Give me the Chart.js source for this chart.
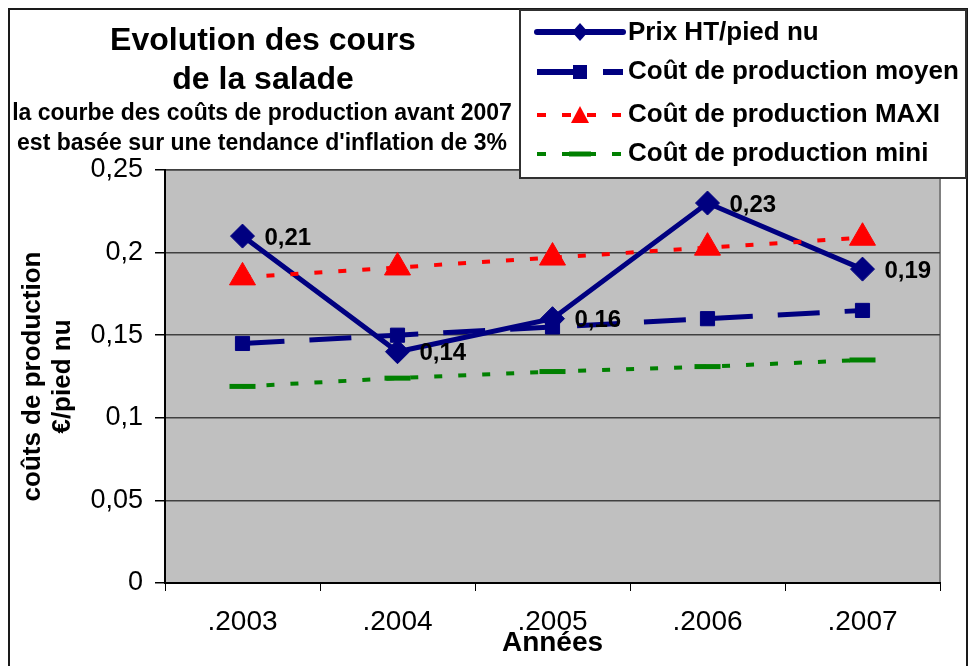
<!DOCTYPE html>
<html>
<head>
<meta charset="utf-8">
<script src="https://cdn.jsdelivr.net/npm/chart.js@4/dist/chart.umd.min.js"></script>
<style>
  html, body { margin: 0; padding: 0; background: #fff; }
  #wrap { width: 968px; height: 666px; position: relative; }
</style>
</head>
<body>
<div id="wrap"><canvas id="c" width="968" height="666"></canvas></div>
<script>
// ---- data ----
const categories = ['.2003', '.2004', '.2005', '.2006', '.2007'];
const prixHT = [0.21, 0.14, 0.16, 0.23, 0.19];
const coutMoyen = [0.145, 0.150, 0.155, 0.160, 0.165];
const coutMaxi = [0.185, 0.191, 0.197, 0.203, 0.209];
const coutMini = [0.119, 0.124, 0.128, 0.131, 0.135];
const prixLabels = ['0,21', '0,14', '0,16', '0,23', '0,19'];
const yTickLabels = ['0', '0,05', '0,1', '0,15', '0,2', '0,25'];
const seriesNames = ['Prix HT/pied nu', 'Coût de production moyen', 'Coût de production MAXI', 'Coût de production mini'];
const titleLines = ['Evolution des cours', 'de la salade'];
const subtitleLines = ['la courbe des coûts de production avant 2007', "est basée sur une tendance d'inflation de 3%"];
const yTitle = ['coûts de production', '€/pied nu'];
const xTitle = 'Années';

const FONT = '"Liberation Sans", Arial, Helvetica, sans-serif';
const NAVY = '#000080', RED = '#FF0000', GREEN = '#008000';

const bgPlugin = {
  id: 'bg',
  beforeDraw(chart) {
    const ctx = chart.ctx, a = chart.chartArea;
    ctx.save();
    ctx.fillStyle = '#fff';
    ctx.fillRect(0, 0, chart.width, chart.height);
    ctx.strokeStyle = '#1a1a1a';
    ctx.lineWidth = 2;
    ctx.strokeRect(9, 9, 958, 700);
    ctx.fillStyle = '#C0C0C0';
    ctx.fillRect(a.left, a.top, a.right - a.left, a.bottom - a.top);
    ctx.strokeStyle = '#808080';
    ctx.lineWidth = 2;
    ctx.strokeRect(a.left, a.top, a.right - a.left, a.bottom - a.top);
    ctx.restore();
  },
  afterDatasetsDraw(chart) {
    const ctx = chart.ctx;
    const meta = chart.getDatasetMeta(0);
    ctx.save();
    ctx.fillStyle = '#000';
    ctx.font = 'bold 24px ' + FONT;
    ctx.textAlign = 'left';
    ctx.textBaseline = 'alphabetic';
    meta.data.forEach((pt, i) => {
      ctx.fillText(prixLabels[i], pt.x + 22, pt.y + 8.5);
    });
    ctx.restore();
  },
  afterDraw(chart) {
    const ctx = chart.ctx;
    ctx.save();
    ctx.fillStyle = '#000';
    ctx.textAlign = 'center';
    ctx.textBaseline = 'alphabetic';
    ctx.font = 'bold 32px ' + FONT;
    ctx.fillText(titleLines[0], 263, 50);
    ctx.fillText(titleLines[1], 263, 89);
    ctx.font = 'bold 23px ' + FONT;
    ctx.fillText(subtitleLines[0], 262, 120, 504);
    ctx.fillText(subtitleLines[1], 262, 150, 496);

    // legend box
    ctx.fillStyle = '#fff';
    ctx.fillRect(520, 10, 446, 168);
    ctx.strokeStyle = '#303030';
    ctx.lineWidth = 2;
    ctx.strokeRect(520, 10, 446, 168);

    const rows = [32, 72, 115, 154];
    const x0 = 537, x1 = 623, xm = 580;
    // row 1 : solid navy + diamond
    ctx.lineCap = 'round';
    ctx.strokeStyle = NAVY; ctx.lineWidth = 6;
    ctx.beginPath(); ctx.moveTo(x0, rows[0]); ctx.lineTo(x1, rows[0]); ctx.stroke();
    ctx.lineCap = 'butt';
    ctx.fillStyle = NAVY;
    ctx.beginPath();
    ctx.moveTo(xm - 8, rows[0]); ctx.lineTo(xm, rows[0] - 9); ctx.lineTo(xm + 8, rows[0]); ctx.lineTo(xm, rows[0] + 9);
    ctx.closePath(); ctx.fill();
    // row 2 : dashed navy + square
    ctx.lineWidth = 6;
    ctx.setLineDash([40, 26]);
    ctx.beginPath(); ctx.moveTo(x0, rows[1]); ctx.lineTo(x1, rows[1]); ctx.stroke();
    ctx.setLineDash([]);
    ctx.fillRect(xm - 7, rows[1] - 7, 14, 14);
    // row 3 : dotted red + triangle
    ctx.strokeStyle = RED; ctx.fillStyle = RED; ctx.lineWidth = 4;
    ctx.setLineDash([9, 16]);
    ctx.beginPath(); ctx.moveTo(x0, rows[2]); ctx.lineTo(x1, rows[2]); ctx.stroke();
    ctx.setLineDash([]);
    ctx.beginPath();
    ctx.moveTo(xm, rows[2] - 9); ctx.lineTo(xm + 9, rows[2] + 8); ctx.lineTo(xm - 9, rows[2] + 8);
    ctx.closePath(); ctx.fill();
    // row 4 : dotted green + dash marker
    ctx.strokeStyle = GREEN; ctx.lineWidth = 4;
    ctx.setLineDash([9, 16]);
    ctx.beginPath(); ctx.moveTo(x0, rows[3]); ctx.lineTo(x1, rows[3]); ctx.stroke();
    ctx.setLineDash([]);
    ctx.lineWidth = 5;
    ctx.beginPath(); ctx.moveTo(xm - 11, rows[3]); ctx.lineTo(xm + 11, rows[3]); ctx.stroke();

    ctx.fillStyle = '#000';
    ctx.textAlign = 'left';
    ctx.font = 'bold 26px ' + FONT;
    const tb = [40, 79, 122, 161];
    seriesNames.forEach((n, i) => ctx.fillText(n, 628, tb[i]));
    ctx.restore();
  }
};

new Chart(document.getElementById('c'), {
  type: 'line',
  data: {
    labels: categories,
    datasets: [
      {
        label: seriesNames[0], data: prixHT, order: 4,
        borderColor: NAVY, backgroundColor: NAVY, borderWidth: 5,
        pointStyle: 'rectRot', pointRadius: 12, pointBorderWidth: 1,
        pointBackgroundColor: NAVY, pointBorderColor: NAVY, tension: 0
      },
      {
        label: seriesNames[1], data: coutMoyen, order: 3,
        borderColor: NAVY, backgroundColor: NAVY, borderWidth: 5, borderDash: [42, 25],
        pointStyle: 'rect', pointRadius: 10, pointBorderWidth: 1,
        pointBackgroundColor: NAVY, pointBorderColor: NAVY, tension: 0
      },
      {
        label: seriesNames[2], data: coutMaxi, order: 2,
        borderColor: RED, backgroundColor: RED, borderWidth: 4, borderDash: [8, 16],
        pointStyle: 'triangle', pointRadius: 15, pointBorderWidth: 1,
        pointBackgroundColor: RED, pointBorderColor: RED, tension: 0
      },
      {
        label: seriesNames[3], data: coutMini, order: 1,
        borderColor: GREEN, backgroundColor: GREEN, borderWidth: 4, borderDash: [8, 16],
        pointStyle: 'line', pointRadius: 13, pointBorderWidth: 5,
        pointBackgroundColor: GREEN, pointBorderColor: GREEN, tension: 0
      }
    ]
  },
  options: {
    responsive: false,
    animation: false,
    devicePixelRatio: 1,
    layout: { padding: { left: 0, top: 170, right: 28, bottom: 0 } },
    plugins: { legend: { display: false }, title: { display: false }, tooltip: { enabled: false } },
    scales: {
      x: {
        offset: true,
        afterFit(scale) { scale.height = 83; },
        grid: { offset: true, drawOnChartArea: false, drawTicks: true, tickLength: 8, color: '#000', lineWidth: 1 },
        border: { display: true, color: '#000', width: 2 },
        ticks: { color: '#000', font: { family: FONT, size: 28 }, padding: 14, maxRotation: 0 },
        title: { display: true, text: xTitle, color: '#000', font: { family: FONT, size: 28, weight: 'bold', lineHeight: 1.2 }, padding: { top: 0, bottom: 6 } }
      },
      y: {
        min: 0, max: 0.25,
        afterFit(scale) { scale.width = 165; },
        afterBuildTicks(scale) {
          scale.ticks = yTickLabels.map((t, i) => ({ value: i * 0.05 }));
        },
        grid: { color: '#404040', lineWidth: 1.5, tickLength: 10, tickColor: '#000', drawTicks: true },
        border: { display: true, color: '#000', width: 2 },
        ticks: {
          color: '#000', font: { family: FONT, size: 27 }, padding: 12,
          callback: (v, i) => yTickLabels[i]
        },
        title: { display: true, text: yTitle, color: '#000', font: { family: FONT, size: 26, weight: 'bold', lineHeight: 1.15 }, padding: { top: 18, bottom: 0 } }
      }
    }
  },
  plugins: [bgPlugin]
});
</script>
</body>
</html>
